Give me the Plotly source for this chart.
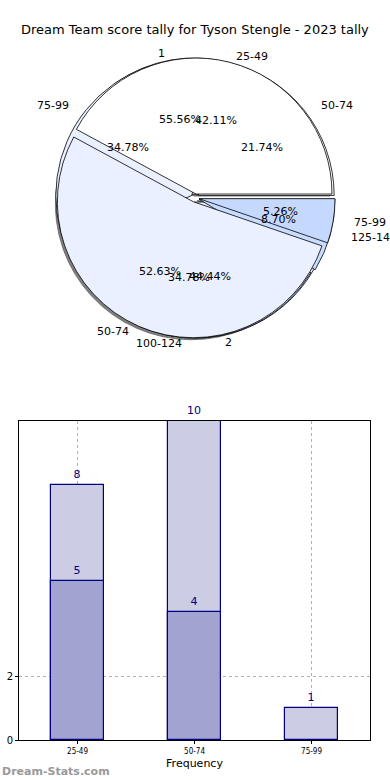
import math
import plotly.graph_objects as go

# ---- data ----
title_text = "Dream Team score tally for Tyson Stengle - 2023 tally"

pie1_labels = ["1", "2"]
pie1_values = [5, 4]

pie2_labels = ["25-49", "50-74", "75-99"]
pie2_values = [8, 10, 1]

pie3_labels = ["50-74", "75-99", "100-124", "125-149"]
pie3_values = [5, 8, 8, 2]

bar_categories = ["25-49", "50-74", "75-99"]
bar_totals = [8, 10, 1]
bar_inner = [5, 4, None]
y_ticks = [0, 2]

pie_colors = ["#ffffff", "#eaf0ff", "#c5d9ff", "#c8dcff"]
bar_light = "#ccccE4"
bar_dark = "#a3a3d1"
navy = "#000080"

W, H = 390, 780
CX, CY = 195, 198          # pie centre in px
R = 136                    # pie radius in px
PULL = 0.03
HALF = R * (1 + PULL)

def dom(dx=0, dy=0):
    return dict(x=[(CX + dx - HALF) / W, (CX + dx + HALF) / W],
                y=[(H - CY - dy - HALF) / H, (H - CY - dy + HALF) / H])

fig = go.Figure()

def add_pie(labels, values, domain, colors, line_color="#000000", name=""):
    # plotly's counterclockwise pies put the first slice clockwise of the
    # rotation line; shift so the first slice starts at 3 o'clock (matplotlib style)
    first_deg = 360.0 * values[0] / sum(values)
    fig.add_trace(go.Pie(
        labels=labels, values=values, domain=domain, sort=False,
        direction="counterclockwise", rotation=90 - first_deg,
        marker=dict(colors=colors, line=dict(color=line_color, width=0.8)),
        pull=[PULL] * len(values), textinfo="none", hoverinfo="label+percent",
        showlegend=False, name=name,
    ))

# shadow
add_pie(pie2_labels, pie2_values, dom(-2, 2), ["#808080"] * 3, "#606060", "shadow")
add_pie(pie1_labels, pie1_values, dom(), pie_colors[:2], name="pie1")
add_pie(pie3_labels, pie3_values, dom(), pie_colors[:4], name="pie3")
add_pie(pie2_labels, pie2_values, dom(), pie_colors[:3], name="pie2")

annotations = []
def pie_texts(labels, values):
    total = sum(values)
    start = 0.0
    for lab, v in zip(labels, values):
        frac = v / total
        mid = (start + frac / 2) * 2 * math.pi
        start += frac
        c, s = math.cos(mid), math.sin(mid)
        lx = CX + 1.1 * 145 * c
        ly = CY - 1.1 * 133 * s
        annotations.append(dict(
            x=lx / W, y=(H - ly) / H, xref="paper", yref="paper",
            text=lab, showarrow=False,
            xanchor="left" if c > 0.05 else ("right" if c < -0.05 else "center"),
            yanchor="middle",
            font=dict(family="DejaVu Sans", size=11, color="#000000")))
        px = CX + 0.6 * 145 * c
        py = CY - 0.6 * 133 * s
        annotations.append(dict(
            x=px / W, y=(H - py) / H, xref="paper", yref="paper",
            text=f"{100 * frac:.2f}%", showarrow=False,
            xanchor="center", yanchor="middle",
            font=dict(family="DejaVu Sans", size=11, color="#000000")))

pie_texts(pie1_labels, pie1_values)
pie_texts(pie2_labels, pie2_values)
pie_texts(pie3_labels, pie3_values)

# ---- bars ----
fig.add_trace(go.Bar(
    x=bar_categories, y=bar_totals, width=0.45,
    marker=dict(color=bar_light, line=dict(color=navy, width=1.2)),
    text=bar_totals, textposition="outside", cliponaxis=False,
    textfont=dict(family="DejaVu Sans", size=11, color=navy),
    xaxis="x", yaxis="y", showlegend=False))
fig.add_trace(go.Bar(
    x=bar_categories, y=bar_inner, width=0.45,
    marker=dict(color=bar_dark, line=dict(color=navy, width=1.2)),
    text=bar_inner, textposition="outside", cliponaxis=False,
    textfont=dict(family="DejaVu Sans", size=11, color=navy),
    xaxis="x", yaxis="y", showlegend=False))

annotations.append(dict(
    x=0.5, y=(H - 30) / H, xref="paper", yref="paper", text=title_text,
    showarrow=False, yanchor="middle",
    font=dict(family="DejaVu Sans", size=13, color="#000000")))
annotations.append(dict(
    x=0.0, y=(H - 771) / H, xref="paper", yref="paper", text="<b>Dream-Stats.com</b>",
    showarrow=False, xanchor="left", yanchor="middle",
    font=dict(family="DejaVu Sans", size=11, color="#999999")))

fig.update_layout(
    width=W, height=H, margin=dict(l=0, r=0, t=0, b=0),
    paper_bgcolor="white", plot_bgcolor="white",
    barmode="overlay", bargap=0,
    annotations=annotations,
    xaxis=dict(domain=[19 / W, 370 / W], anchor="y", range=[-0.5, 2.5],
               automargin=False,
               showline=True, linecolor="black", linewidth=1, mirror=True,
               showgrid=True, gridcolor="#b0b0b0", griddash="dot", gridwidth=1,
               ticks="outside", ticklen=3, tickcolor="black",
               tickfont=dict(family="DejaVu Sans Condensed", size=8, color="#000000"),
               title=dict(text="Frequency", standoff=4,
                          font=dict(family="DejaVu Sans", size=11, color="#000000"))),
    yaxis=dict(domain=[(H - 740) / H, (H - 421) / H], anchor="x", range=[0, 10],
               automargin=False,
               tickvals=y_ticks, showline=True, linecolor="black", linewidth=1, mirror=True,
               showgrid=True, gridcolor="#b0b0b0", griddash="dot", gridwidth=1,
               zeroline=False, ticks="outside", ticklen=3, tickcolor="black",
               tickfont=dict(family="DejaVu Sans", size=10, color="#000000")),
)

fig.write_html(
    "out.html",
    config={"displayModeBar": False},
    post_script="document.body.style.margin='0';"
                "document.body.style.overflow='hidden';"
                "document.documentElement.style.overflow='hidden';",
)
